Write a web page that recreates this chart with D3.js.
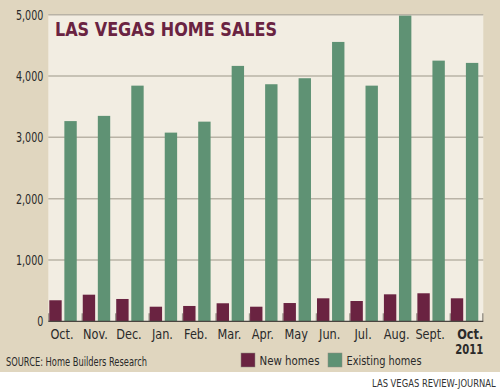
<!DOCTYPE html>
<html><head><meta charset="utf-8">
<script src="https://cdn.jsdelivr.net/npm/d3@7"></script>
<style>
html,body{margin:0;padding:0;background:#fff;}
text{font-family:"DejaVu Sans Condensed","Liberation Sans Narrow",sans-serif;}
</style></head>
<body><svg id="c" width="500" height="392"></svg>
<script>
const months = ["Oct.","Nov.","Dec.","Jan.","Feb.","Mar.","Apr.","May","Jun.","Jul.","Aug.","Sept.","Oct."];
const newHomes = [343, 434, 364, 238, 250, 294, 238, 298, 375, 331, 440, 457, 375];
const existingHomes = [3265, 3350, 3843, 3077, 3256, 4165, 3866, 3964, 4556, 3843, 4985, 4251, 4214];
const yTicks = [0, 1000, 2000, 3000, 4000, 5000];
const seriesNames = ["New homes", "Existing homes"];
const seriesColors = ["#6a2341", "#5f9274"];

const svg = d3.select("#c");
const W = 500, H = 392;
const pL = 48.3, pR = 483.3, pT = 14.7, pB = 321.3;

function condense(sel, f) {
  sel.each(function(){
    const w = this.getComputedTextLength();
    d3.select(this).attr("textLength", w*f).attr("lengthAdjust","spacingAndGlyphs");
  });
}
function fitTo(sel, w) {
  sel.attr("textLength", w).attr("lengthAdjust","spacingAndGlyphs");
}

svg.append("rect").attr("x",0).attr("y",0).attr("width",W).attr("height",372).attr("fill","#e0d6bf");
svg.append("rect").attr("x",pL).attr("y",pT).attr("width",pR-pL).attr("height",pB-pT).attr("fill","#f2ede2");

const x = d3.scaleBand().domain(d3.range(months.length)).range([pL, pR]).padding(0);
const y = d3.scaleLinear().domain([0, 5000]).range([pB, pT]);
const bw = x.bandwidth();

// gridlines
svg.append("g").selectAll("line").data(yTicks.filter(d=>d>0)).join("line")
  .attr("x1", pL).attr("x2", pR).attr("y1", d=>y(d)).attr("y2", d=>y(d))
  .attr("stroke","#b9b3a6").attr("stroke-width",1.5);

// y axis labels
const yAxis = d3.axisLeft(y).tickValues(yTicks).tickFormat(d3.format(",")).tickSize(0).tickPadding(5);
const ya = svg.append("g").attr("transform",`translate(${pL},0)`).call(yAxis);
ya.select(".domain").remove();
ya.selectAll("text").attr("font-size",14).attr("fill","#2a2a2a")
  .style("font-family","'DejaVu Sans Condensed',sans-serif");
condense(ya.selectAll("text"), 0.76);

// band separator ticks (band edges, including the right end)
const edges = d3.range(months.length).map(i => x(i)).concat([pR - 1]);
svg.append("g").selectAll("line").data(edges).join("line")
  .attr("x1", d=>d+0.5).attr("x2", d=>d+0.5).attr("y1", pB-8).attr("y2", pB)
  .attr("stroke","#9a948a").attr("stroke-width",1.5);

// bars
const barW = bw*0.37;
svg.append("g").selectAll("rect").data(newHomes).join("rect")
  .attr("x",(d,i)=>x(i)+1).attr("width",barW)
  .attr("y",d=>y(d)).attr("height",d=>pB-y(d)).attr("fill",seriesColors[0]);
svg.append("g").selectAll("rect").data(existingHomes).join("rect")
  .attr("x",(d,i)=>x(i)+bw*0.48).attr("width",barW)
  .attr("y",d=>y(d)).attr("height",d=>pB-y(d)).attr("fill",seriesColors[1]);

// baseline
svg.append("line").attr("x1",pL).attr("x2",pR).attr("y1",pB).attr("y2",pB)
  .attr("stroke","#4a4540").attr("stroke-width",1.3);

// x labels
const last = months.length-1;
const xl = svg.append("g").selectAll("text").data(months).join("text")
  .attr("x",(d,i)=> i===last ? pR : x(i)+bw/2-3)
  .attr("y",339)
  .attr("text-anchor",(d,i)=> i===last ? "end" : "middle")
  .attr("font-size",14).attr("font-weight",(d,i)=> i===last ? "bold" : "normal")
  .attr("fill","#2a2a2a").text(d=>d);
condense(xl, 0.9);
const yr = svg.append("text").attr("x",pR).attr("y",354).attr("text-anchor","end")
  .attr("font-size",14).attr("font-weight","bold").attr("fill","#2a2a2a").text("2011");
fitTo(yr, 28);

// title
const tt = svg.append("text").attr("x",55).attr("y",36).attr("font-size",19).attr("font-weight","bold")
  .attr("fill","#6a2341").text("LAS VEGAS HOME SALES");
fitTo(tt, 222);

// source
const src = svg.append("text").attr("x",6).attr("y",366).attr("font-size",12.5).attr("fill","#2a2a2a")
  .text("SOURCE: Home Builders Research");
fitTo(src, 141);

// legend
const lx = [241, 328];
const lw = [60, 75];
const lg = svg.append("g");
seriesNames.forEach((n,i)=>{
  lg.append("rect").attr("x",lx[i]).attr("y",353).attr("width",14).attr("height",14)
    .attr("fill",seriesColors[i]).attr("stroke","#8a8a80").attr("stroke-width",0.5);
  const t = lg.append("text").attr("x",lx[i]+18.5).attr("y",365).attr("font-size",12.5).attr("fill","#2a2a2a").text(n);
  fitTo(t, lw[i]);
});

// credit (horizontally scaled via transform to stay inside the frame)
const cr = svg.append("text").attr("x",0).attr("y",0).attr("font-size",11)
  .attr("fill","#333").text("LAS VEGAS REVIEW-JOURNAL");
const crW = cr.node().getComputedTextLength();
cr.attr("transform", `translate(372,387) scale(${124/crW},1)`);
</script></body></html>
